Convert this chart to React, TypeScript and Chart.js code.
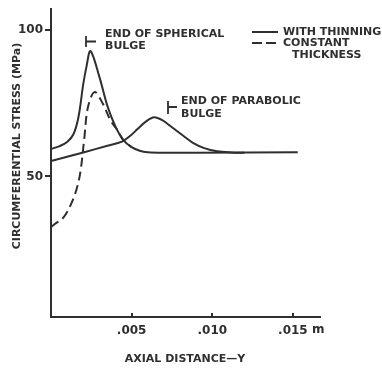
import React, { useEffect, useRef } from "react";
import { Chart, registerables } from "chart.js";

Chart.register(...registerables);

// Spherical bulge, with thinning (solid)
const sphericalX = [0, 0.0005, 0.001, 0.0014, 0.0017, 0.002, 0.0022, 0.00245, 0.003, 0.0035, 0.004, 0.0045, 0.005, 0.0055, 0.006, 0.007, 0.009, 0.0153];
const sphericalY = [59.4, 60.3, 61.8, 64.5, 70.2, 81.5, 87.5, 92.8, 84, 74, 67, 62.3, 60, 58.8, 58.3, 58.1, 58.1, 58.3];

// Spherical bulge, constant thickness (dashed)
const constantX = [0, 0.0002, 0.0008, 0.0013, 0.00165, 0.00185, 0.00206, 0.00229, 0.0027, 0.0032, 0.0037, 0.0041, 0.0045, 0.005];
const constantY = [32.8, 33.6, 36.2, 41.3, 46.9, 52.6, 62.8, 73.6, 78.8, 75, 69, 66, 62.3, 60];

// Parabolic bulge, with thinning (solid)
const parabolicX = [0, 0.002, 0.0035, 0.0044, 0.0049, 0.0054, 0.0059, 0.0064, 0.0069, 0.0075, 0.0082, 0.0088, 0.0095, 0.0103, 0.0112, 0.012];
const parabolicY = [55.3, 58.2, 60.5, 61.9, 63.8, 66.4, 68.8, 70.2, 69.2, 66.8, 63.9, 61.5, 59.7, 58.6, 58.2, 58.1];

const xTicks = [0.005, 0.01, 0.015];
const xTickLabels = [".005", ".010", ".015"];
const xUnit = "m";
const yTicks = [50, 100];
const yTickLabels = ["50", "100"];
const legendLabels = ["WITH THINNING", "CONSTANT", "THICKNESS"];
const sphericalNote = ["END OF SPHERICAL", "BULGE"];
const parabolicNote = ["END OF PARABOLIC", "BULGE"];
const xTitle = "AXIAL DISTANCE—Y";
const yTitle = "CIRCUMFERENTIAL STRESS (MPa)";

const INK = "#2f2f2f";
const FONT = "'DejaVu Sans', sans-serif";

const toPoints = (xs: number[], ys: number[]) => xs.map((x, i) => ({ x, y: ys[i] }));

const overlay = {
  id: "overlay",
  afterDraw(chart: any) {
    const ctx = chart.ctx as CanvasRenderingContext2D;
    const xs = chart.scales.x;
    const area = chart.chartArea;
    ctx.save();
    ctx.fillStyle = INK;
    ctx.strokeStyle = INK;
    ctx.lineWidth = 2;
    ctx.lineCap = "butt";

    // x tick marks (upward)
    for (const v of xTicks) {
      const px = Math.round(xs.getPixelForValue(v));
      ctx.beginPath();
      ctx.moveTo(px, area.bottom);
      ctx.lineTo(px, area.bottom - 4);
      ctx.stroke();
    }

    ctx.font = `bold 12px ${FONT}`;
    ctx.textBaseline = "middle";
    ctx.textAlign = "left";
    ctx.fillText(xUnit, 312, 330);

    // axis titles
    ctx.font = `bold 11px ${FONT}`;
    ctx.textAlign = "center";
    ctx.fillText(xTitle, 185, 359);
    ctx.save();
    ctx.translate(17, 146);
    ctx.rotate(-Math.PI / 2);
    ctx.fillText(yTitle, 0, 0);
    ctx.restore();

    // annotations
    ctx.textAlign = "left";
    ctx.font = `bold 11px ${FONT}`;
    ctx.fillText(sphericalNote[0], 105, 34);
    ctx.fillText(sphericalNote[1], 105, 46);
    ctx.fillText(parabolicNote[0], 181, 101);
    ctx.fillText(parabolicNote[1], 181, 114);

    ctx.lineWidth = 1.8;
    ctx.beginPath();
    ctx.moveTo(86, 36); ctx.lineTo(86, 47);
    ctx.moveTo(86, 41.5); ctx.lineTo(96, 41.5);
    ctx.moveTo(168, 101); ctx.lineTo(168, 114);
    ctx.moveTo(168, 107); ctx.lineTo(177, 107);
    ctx.stroke();

    // legend
    ctx.lineWidth = 2;
    ctx.beginPath();
    ctx.moveTo(252, 32); ctx.lineTo(278, 32);
    ctx.stroke();
    ctx.beginPath();
    ctx.moveTo(252, 43); ctx.lineTo(262, 43);
    ctx.moveTo(266, 43); ctx.lineTo(276, 43);
    ctx.stroke();
    ctx.fillText(legendLabels[0], 283, 32);
    ctx.fillText(legendLabels[1], 283, 43);
    ctx.fillText(legendLabels[2], 292, 55);
    ctx.restore();
  },
};

export default function App() {
  const ref = useRef<HTMLCanvasElement>(null);
  useEffect(() => {
    if (!ref.current) return;
    Chart.defaults.font.family = FONT;
    const lineCommon = {
      borderColor: INK,
      borderWidth: 2,
      pointRadius: 0,
      fill: false,
      tension: 0.35,
    };
    const chart = new Chart(ref.current, {
      type: "line",
      data: {
        datasets: [
          { label: "WITH THINNING", data: toPoints(sphericalX, sphericalY), ...lineCommon },
          { label: "WITH THINNING (parabolic)", data: toPoints(parabolicX, parabolicY), ...lineCommon },
          { label: "CONSTANT THICKNESS", data: toPoints(constantX, constantY), ...lineCommon, borderDash: [9, 5] },
        ],
      },
      options: {
        responsive: false,
        animation: false,
        layout: { padding: { left: 0, right: 62, top: 8, bottom: 0 } },
        plugins: { legend: { display: false }, tooltip: { enabled: false } },
        scales: {
          x: {
            type: "linear",
            min: 0,
            max: 0.01668,
            afterBuildTicks: (s: any) => { s.ticks = xTicks.map((v) => ({ value: v })); },
            afterFit: (s: any) => { s.height = 54; },
            grid: { display: false, drawTicks: false },
            border: { display: true, color: INK, width: 2 },
            ticks: {
              autoSkip: false,
              maxRotation: 0,
              padding: 7,
              color: INK,
              font: { size: 12, weight: "bold" },
              callback: (v: any) => {
                const i = xTicks.findIndex((t) => Math.abs(t - v) < 1e-9);
                return i >= 0 ? xTickLabels[i] : "";
              },
            },
          },
          y: {
            type: "linear",
            min: 2.04,
            max: 107.1,
            afterBuildTicks: (s: any) => { s.ticks = yTicks.map((v) => ({ value: v })); },
            afterFit: (s: any) => { s.width = 51; },
            grid: { display: true, drawOnChartArea: false, drawTicks: true, tickLength: 6, color: INK, lineWidth: 2 },
            border: { display: true, color: INK, width: 2 },
            ticks: {
              autoSkip: false,
              padding: 2,
              color: INK,
              font: { size: 12, weight: "bold" },
              callback: (v: any) => {
                const i = yTicks.indexOf(v);
                return i >= 0 ? yTickLabels[i] : "";
              },
            },
          },
        },
      },
      plugins: [overlay],
    });
    return () => chart.destroy();
  }, []);
  return (
    <div style={{ position: "fixed", left: 0, top: 0, width: 382, height: 371, background: "#fff" }}>
      <canvas ref={ref} width={382} height={371} style={{ display: "block" }} />
    </div>
  );
}
